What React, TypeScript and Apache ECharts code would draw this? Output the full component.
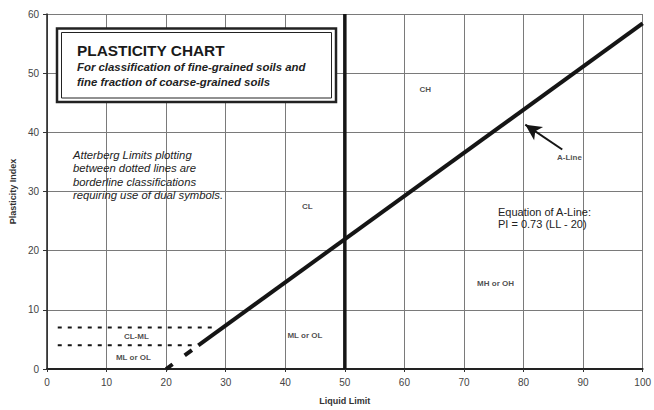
import React, { useEffect, useRef } from "react";
import * as echarts from "echarts";

// Axis ticks
const xTicks = [0, 10, 20, 30, 40, 50, 60, 70, 80, 90, 100];
const yTicks = [0, 10, 20, 30, 40, 50, 60];

// A-Line (PI = 0.73 (LL - 20))
const aLineSolid: [number, number][] = [
  [25.4, 4.0],
  [100, 58.4],
];
const aLineDashed: [number, number][] = [
  [20, 0],
  [25.4, 4.0],
];
// Vertical LL = 50 line
const llFifty: [number, number][] = [
  [50, 0],
  [50, 60],
];
// Dotted borderline limits
const pi7Line: [number, number][] = [
  [1.8, 7],
  [27.8, 7],
];
const pi4Line: [number, number][] = [
  [1.8, 4],
  [24.8, 4],
];
// Arrow pointing to the A-Line
const arrowFrom: [number, number] = [86.5, 37.1];
const arrowTo: [number, number] = [80.3, 41.3];

// Zone labels
const zoneNames = ["CH", "CL", "A-Line", "MH or OH", "ML or OL", "CL-ML", "ML or OL"];
const zoneLL = [63.5, 43.7, 87.7, 75.3, 43.3, 15.0, 14.5];
const zonePI = [47.2, 27.4, 35.8, 14.4, 5.7, 5.5, 2.0];

const titleText = "PLASTICITY CHART";
const subtitleLines = [
  "For classification of fine-grained soils and",
  "fine fraction of coarse-grained soils",
];
const noteLines = [
  "Atterberg Limits plotting",
  "between dotted lines are",
  "borderline classifications",
  "requiring use of dual symbols.",
];
const equationLines = ["Equation of A-Line:", "PI = 0.73 (LL - 20)"];

export default function App() {
  const ref = useRef<HTMLDivElement>(null);
  useEffect(() => {
    if (!ref.current) return;
    const chart = echarts.init(ref.current, null, { renderer: "svg" });
    const font = "Liberation Sans, Arial, sans-serif";
    const option: any = {
      animation: false,
      backgroundColor: "#fff",
      textStyle: { fontFamily: font },
      grid: { left: 46, right: 7, top: 14, bottom: 39 },
      xAxis: {
        type: "value",
        min: xTicks[0],
        max: xTicks[xTicks.length - 1],
        interval: 10,
        name: "Liquid Limit",
        nameLocation: "middle",
        nameGap: 27,
        nameTextStyle: { fontSize: 9, fontWeight: "bold", color: "#333", fontFamily: font },
        axisLine: { lineStyle: { color: "#222", width: 2 } },
        axisTick: { show: true, length: 3, lineStyle: { color: "#333" } },
        axisLabel: { fontSize: 10, color: "#444", margin: 8, fontFamily: font },
        splitLine: { show: true, lineStyle: { color: "#7a7a7a", width: 1 } },
      },
      yAxis: {
        type: "value",
        min: yTicks[0],
        max: yTicks[yTicks.length - 1],
        interval: 10,
        name: "Plasticity Index",
        nameLocation: "middle",
        nameRotate: 90,
        nameGap: 28,
        nameTextStyle: { fontSize: 9, fontWeight: "bold", color: "#333", fontFamily: font },
        axisLine: { show: true, lineStyle: { color: "#222", width: 1.5 } },
        axisTick: { show: true, length: 4, lineStyle: { color: "#333" } },
        axisLabel: { fontSize: 10, color: "#444", margin: 8, fontFamily: font },
        splitLine: { show: true, lineStyle: { color: "#7a7a7a", width: 1 } },
      },
      series: [
        {
          type: "line",
          data: aLineSolid,
          symbol: "none",
          lineStyle: { color: "#151515", width: 4 },
          z: 5,
          markLine: {
            silent: true,
            symbol: ["none", "arrow"],
            symbolSize: [12, 16],
            label: { show: false },
            lineStyle: { color: "#151515", width: 2, type: "solid" },
            data: [[{ coord: arrowFrom }, { coord: arrowTo }]],
          },
        },
        {
          type: "line",
          data: aLineDashed,
          symbol: "none",
          lineStyle: { color: "#151515", width: 4, type: [8, 15, 9, 8] },
          z: 5,
        },
        {
          type: "line",
          data: llFifty,
          symbol: "none",
          lineStyle: { color: "#151515", width: 3.5 },
          z: 5,
        },
        {
          type: "line",
          data: pi7Line,
          symbol: "none",
          lineStyle: { color: "#151515", width: 2, type: [4, 6] },
          z: 5,
        },
        {
          type: "line",
          data: pi4Line,
          symbol: "none",
          lineStyle: { color: "#151515", width: 2, type: [4, 6] },
          z: 5,
        },
        {
          type: "scatter",
          symbolSize: 0,
          data: zoneNames.map((n, i) => ({ name: n, value: [zoneLL[i], zonePI[i]] })),
          label: {
            show: true,
            position: "inside",
            formatter: (p: any) => p.name,
            fontSize: 8,
            fontWeight: "bold",
            color: "#222",
            fontFamily: font,
          },
          z: 6,
        },
      ],
      graphic: [
        {
          type: "rect",
          shape: { x: 57, y: 28.5, width: 279, height: 73.5 },
          style: { fill: "#fff", stroke: "#222", lineWidth: 2.5 },
          z: 10,
        },
        {
          type: "rect",
          shape: { x: 61.5, y: 32.5, width: 270, height: 65.5 },
          style: { fill: "none", stroke: "#222", lineWidth: 1 },
          z: 11,
        },
        {
          type: "text",
          x: 77,
          y: 50,
          style: {
            text: titleText,
            font: `bold 15.4px ${font}`,
            fill: "#1a1a1a",
            verticalAlign: "middle",
          },
          z: 12,
        },
        ...subtitleLines.map((t, i) => ({
          type: "text",
          x: 77,
          y: 67 + i * 15,
          style: {
            text: t,
            font: `italic bold 11.4px ${font}`,
            fill: "#222",
            verticalAlign: "middle",
          },
          z: 12,
        })),
        ...noteLines.map((t, i) => ({
          type: "text",
          x: 73,
          y: 155 + i * 13.4,
          style: {
            text: t,
            font: `italic 11.3px ${font}`,
            fill: "#222",
            verticalAlign: "middle",
          },
          z: 12,
        })),
        ...equationLines.map((t, i) => ({
          type: "text",
          x: 498,
          y: 212 + i * 12,
          style: {
            text: t,
            font: `11px ${font}`,
            fill: "#222",
            verticalAlign: "middle",
          },
          z: 12,
        })),
      ],
    };
    chart.setOption(option);
    return () => chart.dispose();
  }, []);
  return (
    <div
      ref={ref}
      style={{ position: "fixed", left: 0, top: 0, width: 654, height: 410, background: "#fff" }}
    />
  );
}
